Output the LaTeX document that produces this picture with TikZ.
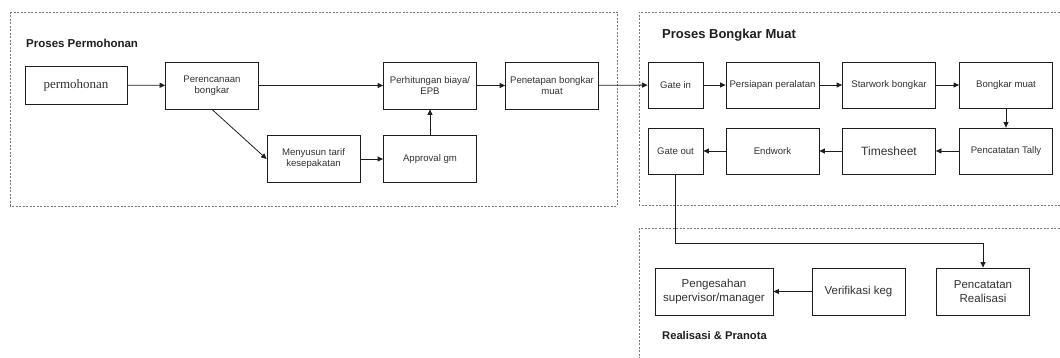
\documentclass[tikz,border=0pt]{standalone}
\usepackage{fontspec}
\setmainfont{Liberation Sans}
\newfontfamily\serifface{Liberation Serif}
\usepackage{xcolor}
\usepackage{tikz}
\usetikzlibrary{arrows.meta, positioning, calc}
\definecolor{mydark}{RGB}{30,30,30}
\definecolor{mytext}{RGB}{50,50,50}
\definecolor{mydot}{RGB}{120,120,120}
\tikzset{
  procbox/.style={rectangle, draw=mydark, fill=white, text=mytext,
    minimum width=93pt, minimum height=47pt, align=center,
    inner sep=0pt, font=\fontsize{9.6}{11}\selectfont, line width=0.8pt},
  gatebox/.style={procbox, minimum width=55pt, minimum height=46pt},
  bigbox/.style={procbox, font=\fontsize{11.5}{13.5}\selectfont},
  areabox/.style={draw=mydot, line width=0.8pt, dash pattern=on 2pt off 1.5pt},
  areatitle/.style={anchor=west, inner sep=0pt, text=mydark},
  arrow/.style={-{Triangle[length=5.5pt,width=5pt]}, line width=0.8pt, color=mydark}
}
\begin{document}
\begin{tikzpicture}[x=1pt, y=-1pt]
  \useasboundingbox (0,0) rectangle (1060,358);

  % Areas
  \draw[areabox] (10,12) rectangle (617,206);
  \draw[areabox] (1070,12) -- (639,12) -- (639,205) -- (1070,205);
  \draw[areabox] (1070,228) -- (639,228) -- (639,370);
  \node[areatitle, font=\bfseries\fontsize{11.5}{13}\selectfont] (t1) at (26,43) {Proses Permohonan};
  \node[areatitle, font=\bfseries\fontsize{13}{15}\selectfont] (t2) at (662,35) {Proses Bongkar Muat};
  \node[areatitle, font=\bfseries\fontsize{11.2}{13}\selectfont] (t3) at (662,335) {Realisasi \& Pranota};

  % Proses Permohonan
  \node[procbox, minimum width=102pt, minimum height=38pt, font=\serifface\fontsize{13}{15}\selectfont] (mohon) at (76,85) {permohonan};
  \node[procbox] (rencana) at (212,85.5) {Perencanaan\\bongkar};
  \node[procbox] (tarif) at (313.5,159) {Menyusun tarif\\kesepakatan};
  \node[procbox] (hitung) at (430,85.5) {Perhitungan biaya/\\EPB};
  \node[procbox] (approval) at (430,159) {Approval gm};
  \node[procbox] (tetap) at (552,85.5) {Penetapan bongkar\\muat};

  % Proses Bongkar Muat
  \node[gatebox] (gatein) at (675.5,85) {Gate in};
  \node[procbox, minimum height=46pt] (siap) at (772.5,85) {Persiapan peralatan};
  \node[procbox, minimum height=46pt] (start) at (889,85) {Starwork bongkar};
  \node[procbox, minimum height=46pt] (bongkar) at (1006,85) {Bongkar muat};
  \node[gatebox] (gateout) at (675.5,151) {Gate out};
  \node[procbox, minimum height=46pt] (endwork) at (772.5,151) {Endwork};
  \node[procbox, minimum height=46pt, font=\fontsize{12}{14}\selectfont] (timesheet) at (889,151) {Timesheet};
  \node[procbox, minimum height=46pt] (tally) at (1006,151) {Pencatatan Tally};

  % Realisasi & Pranota
  \node[bigbox, minimum width=118pt] (sah) at (714,291.5) {Pengesahan\\supervisor/manager};
  \node[bigbox] (verif) at (858.5,291.5) {Verifikasi keg};
  \node[bigbox] (realisasi) at (983,291.5) {Pencatatan\\Realisasi};

  % Edges
  \draw[arrow] (mohon) -- (rencana);
  \draw[arrow] (rencana) -- (hitung);
  \draw[arrow] (rencana.south) -- (tarif.west);
  \draw[arrow] (tarif) -- (approval);
  \draw[arrow] (approval) -- (hitung);
  \draw[arrow] (hitung) -- (tetap);
  \draw[arrow] (tetap) -- (gatein);
  \draw[arrow] (gatein) -- (siap);
  \draw[arrow] (siap) -- (start);
  \draw[arrow] (start) -- (bongkar);
  \draw[arrow] (bongkar) -- (tally);
  \draw[arrow] (tally) -- (timesheet);
  \draw[arrow] (timesheet) -- (endwork);
  \draw[arrow] (endwork) -- (gateout);
  \draw[arrow] (gateout.south) -- ++(0,69) -| (realisasi.north);
  \draw[arrow] (verif) -- (sah);
\end{tikzpicture}
\end{document}
